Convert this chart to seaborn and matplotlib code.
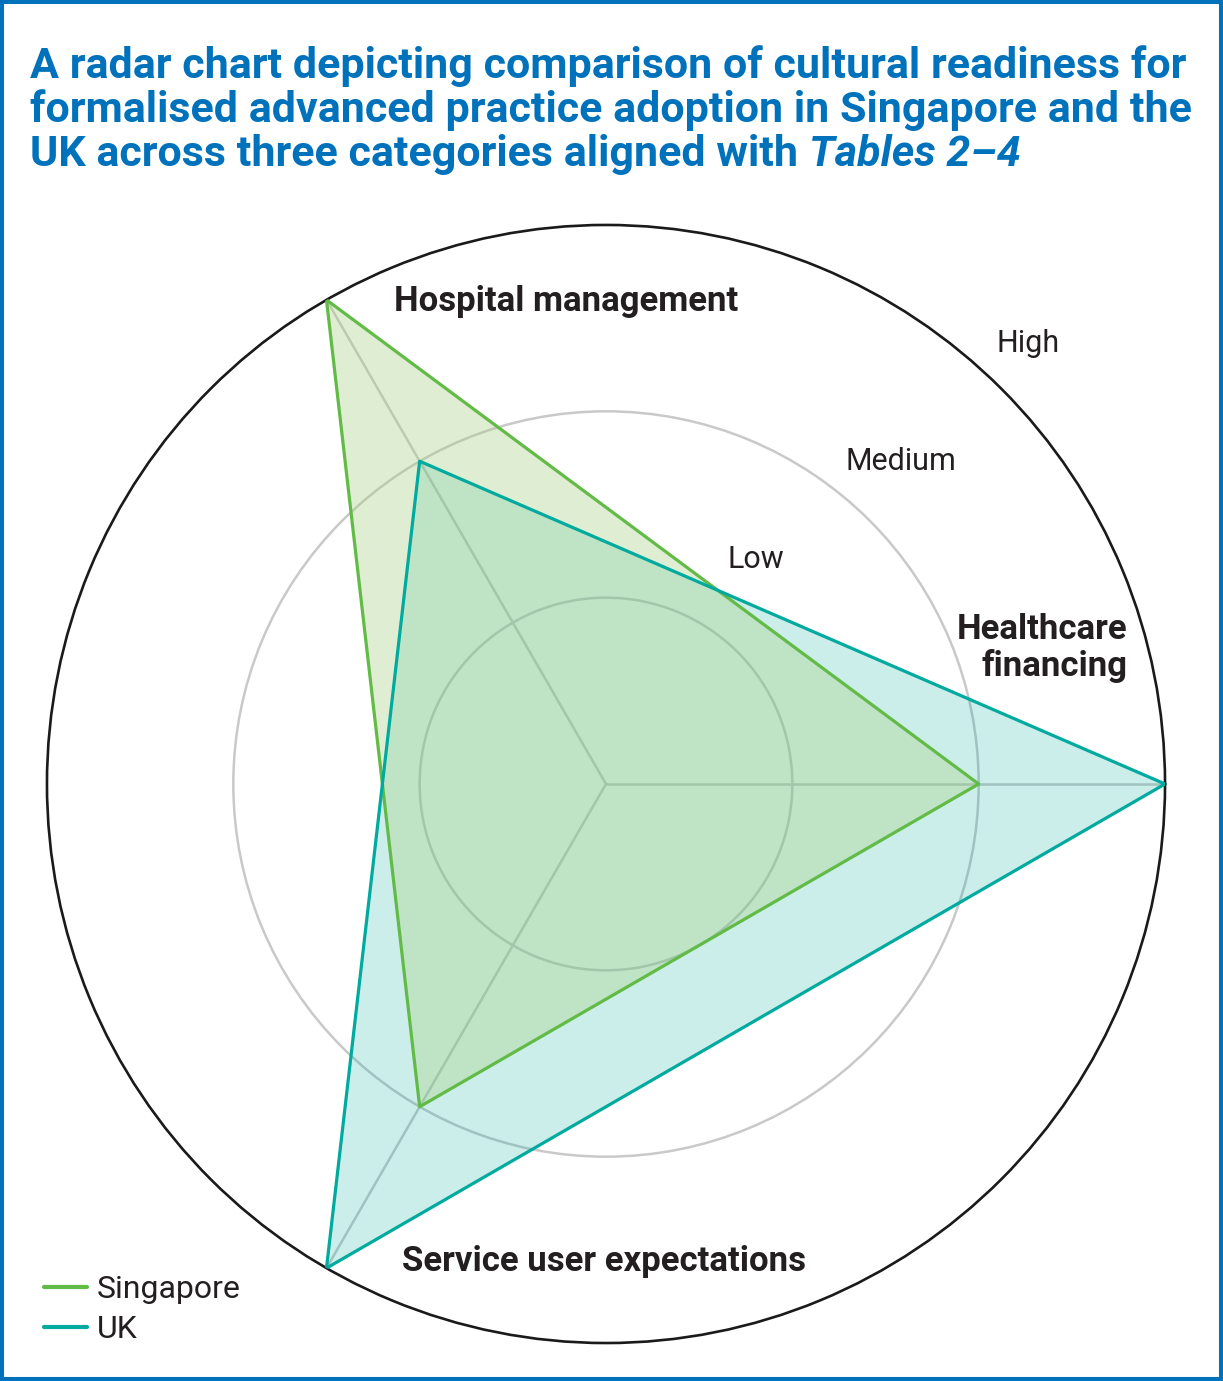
import numpy as np
import pandas as pd
import seaborn as sns
import matplotlib.pyplot as plt
from matplotlib.patches import Rectangle

# data
categories = ['Healthcare\nfinancing', 'Hospital management', 'Service user expectations']
singapore = [2, 3, 2]
uk = [3, 2, 3]
levels = ['Low', 'Medium', 'High']

sns.set_style('white')
plt.rcParams['font.family'] = ['Roboto', 'DejaVu Sans']

BLUE = '#0071bb'
GREEN = '#62bb46'
TEAL = '#00aa9e'
DARK = '#231f20'

fig = plt.figure(figsize=(12.23, 13.81), dpi=100)
ax = fig.add_axes([0.0384, 0.0275, 0.9142, 0.8096], projection='polar')

angles = np.deg2rad([0, 120, 240])
theta = np.append(angles, angles[0])

df = pd.DataFrame({
    'theta': np.concatenate([theta, theta]),
    'r': singapore + singapore[:1] + uk + uk[:1],
    'country': ['Singapore'] * 4 + ['UK'] * 4,
})

# fills first, UK under Singapore
ax.fill(theta, uk + uk[:1], color=TEAL, alpha=0.2, lw=0, zorder=2)
ax.fill(theta, singapore + singapore[:1], color='#a6cf80', alpha=0.35, lw=0, zorder=2)

sns.lineplot(data=df, x='theta', y='r', hue='country', palette=[GREEN, TEAL],
             sort=False, estimator=None, lw=2.3, ax=ax, zorder=3)

ax.set_ylim(0, 3)
ax.set_yticks([1, 2])
ax.set_yticklabels([])
ax.set_xticks(angles)
ax.set_xticklabels([])
ax.grid(True, color='#c9c9c9', lw=1.8)
ax.spines['polar'].set_color('#1a1a1a')
ax.spines['polar'].set_linewidth(1.9)
ax.set_xlabel('')
ax.set_ylabel('')

# category labels
ax.text(np.deg2rad(94.7), 2.596, categories[1], ha='center', va='center',
        fontsize=25, fontweight='bold', color=DARK)
ax.text(np.deg2rad(14.6), 2.89, categories[0], ha='right', va='center',
        multialignment='right', fontsize=25, fontweight='bold', color=DARK,
        linespacing=1.1)
ax.text(np.deg2rad(269.8), 2.565, categories[2], ha='center', va='center',
        fontsize=25, fontweight='bold', color=DARK)

# level labels
for lab, ang, rr in zip(levels, [56.2, 47.5, 46.2], [1.447, 2.344, 3.272]):
    ax.text(np.deg2rad(ang), rr, lab, ha='center', va='center',
            fontsize=22, color=DARK)

# legend
ax.get_legend().remove()
handles, labels = ax.get_lines()[:2], ['Singapore', 'UK']
leg = fig.legend(handles, labels, loc='lower left', bbox_to_anchor=(44 / 1223, 0.027),
                 frameon=False, fontsize=23, handlelength=1.35, handletextpad=0.3,
                 labelspacing=0.33, borderpad=0, borderaxespad=0, labelcolor=DARK)
for ln in leg.get_lines():
    ln.set_linewidth(3)

# title
tkw = dict(fontsize=31, fontweight='bold', color=BLUE, va='baseline', ha='left')
fig.text(30 / 1223, 1 - 78 / 1381, 'A radar chart depicting comparison of cultural readiness for', **tkw)
fig.text(30 / 1223, 1 - 122 / 1381, 'formalised advanced practice adoption in Singapore and the', **tkw)
t3 = fig.text(30 / 1223, 1 - 166 / 1381, 'UK across three categories aligned with ', **tkw)
fig.canvas.draw()
bb = t3.get_window_extent(fig.canvas.get_renderer())
fig.text(bb.x1 / fig.bbox.width, 1 - 166 / 1381, 'Tables 2\u20134', style='italic', **tkw)

# border
fig.add_artist(Rectangle((0, 0), 1, 1, transform=fig.transFigure, fill=False,
                         ec=BLUE, lw=5.8))

fig.savefig('out.png', dpi=100)
